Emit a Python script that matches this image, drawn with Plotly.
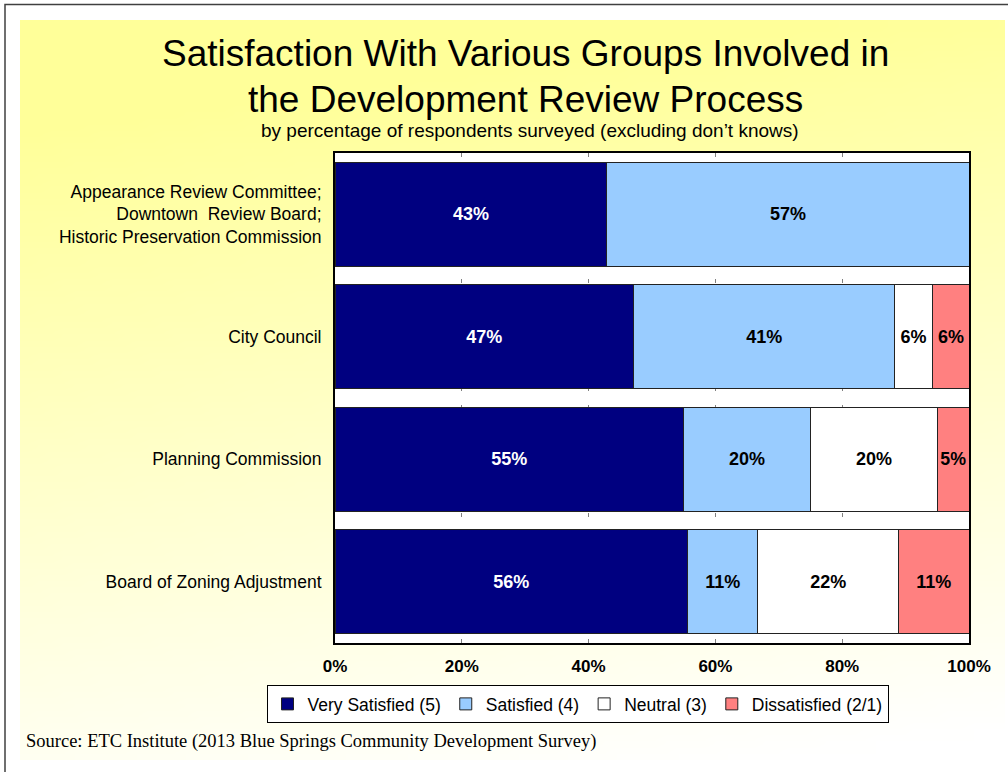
import base64
import struct
import zlib

import plotly.graph_objects as go

# ---------------- data ----------------
categories = [
    "Appearance Review Committee;<br>Downtown  Review Board;<br>Historic Preservation Commission",
    "City Council",
    "Planning Commission",
    "Board of Zoning Adjustment",
]
series_names = ["Very Satisfied (5)", "Satisfied (4)", "Neutral (3)", "Dissatisfied (2/1)"]
very_satisfied = [42.9, 47.1, 55.0, 55.6]
satisfied = [57.1, 41.2, 20.0, 11.1]
neutral = [0.0, 5.9, 20.0, 22.2]
dissatisfied = [0.0, 5.9, 5.0, 11.1]
x_ticks = [0, 20, 40, 60, 80, 100]
x_tick_labels = ["0%", "20%", "40%", "60%", "80%", "100%"]

title_line1 = "Satisfaction With Various Groups Involved in"
title_line2 = "the Development Review Process"
subtitle_text = "by percentage of respondents surveyed (excluding don\u2019t knows)"
source_text = "Source: ETC Institute (2013 Blue Springs Community Development Survey)"

# ---------------- styles ----------------
colors = ["#000080", "#99CCFF", "#FFFFFF", "#FF8080"]
text_colors = ["white", "black", "black", "black"]
SANS = "Arial, Liberation Sans"

W, H = 1008, 772
ML, MR, MT, MB = 335, 39, 153, 129
PW, PH = W - ML - MR, H - MT - MB


def px(xp):
    return (xp - ML) / PW


def py(yp):
    return (H - MB - yp) / PH


# background gradient image (pure python PNG)
def make_png(w, h):
    rows = []
    for j in range(h):
        v = j / (h - 1)
        row = bytearray([0])
        for i in range(w):
            u = i / (w - 1)
            t = 0.85 * v + 0.15 * u
            f = min(1.0, max(0.0, (t - 0.12) / 0.85))
            b = int(round(153 + 102 * f))
            row += bytes([255, 255, b])
        rows.append(bytes(row))
    raw = b"".join(rows)

    def chunk(tag, data):
        c = struct.pack(">I", len(data)) + tag + data
        return c + struct.pack(">I", zlib.crc32(tag + data) & 0xFFFFFFFF)

    png = b"\x89PNG\r\n\x1a\n"
    png += chunk(b"IHDR", struct.pack(">IIBBBBB", w, h, 8, 2, 0, 0, 0))
    png += chunk(b"IDAT", zlib.compress(raw, 9))
    png += chunk(b"IEND", b"")
    return "data:image/png;base64," + base64.b64encode(png).decode()


bg_src = make_png(80, 60)

fig = go.Figure()
all_series = [very_satisfied, satisfied, neutral, dissatisfied]
for name, vals, col, tcol in zip(series_names, all_series, colors, text_colors):
    fig.add_trace(
        go.Bar(
            y=categories,
            x=vals,
            name=name,
            orientation="h",
            marker=dict(color=col, line=dict(color="#222222", width=1)),
            text=[f"{round(v)}%" if v > 0 else "" for v in vals],
            textposition="inside",
            insidetextanchor="middle",
            textangle=0,
            textfont=dict(family=SANS, size=18, color=tcol, weight="bold"),
            hoverinfo="skip",
        )
    )

fig.update_layout(
    width=W,
    height=H,
    barmode="stack",
    bargap=0.15,
    margin=dict(l=ML, r=MR, t=MT, b=MB),
    paper_bgcolor="white",
    plot_bgcolor="white",
    font=dict(family=SANS, color="black"),
    showlegend=True,
    legend=dict(
        orientation="h",
        x=px(577.5),
        xanchor="center",
        y=py(685),
        yanchor="top",
        bgcolor="white",
        bordercolor="black",
        borderwidth=1,
        font=dict(size=17.5, family=SANS),
        traceorder="normal",
        itemwidth=30,
    ),
    xaxis=dict(
        range=[0, 100],
        tickvals=x_ticks,
        ticktext=x_tick_labels,
        tickfont=dict(size=17, weight="bold", family=SANS),
        showgrid=True,
        gridcolor="#808080",
        gridwidth=1,
        griddash="4px,14px",
        showline=True,
        linecolor="black",
        linewidth=2,
        mirror=True,
        ticks="",
        ticklabelstandoff=7,
        zeroline=False,
        fixedrange=True,
    ),
    yaxis=dict(
        categoryorder="array",
        categoryarray=categories,
        autorange="reversed",
        tickfont=dict(size=17.5, family=SANS),
        showline=True,
        linecolor="black",
        linewidth=2,
        mirror=True,
        ticks="",
        ticklabelstandoff=8,
        showgrid=False,
        fixedrange=True,
    ),
    images=[
        dict(
            source=bg_src,
            xref="paper",
            yref="paper",
            x=px(20),
            y=py(20),
            sizex=px(1005) - px(20),
            sizey=py(20) - py(760),
            xanchor="left",
            yanchor="top",
            sizing="stretch",
            layer="below",
        )
    ],
    shapes=[
        dict(
            type="rect",
            xref="paper",
            yref="paper",
            x0=0,
            x1=1,
            y0=0,
            y1=1,
            fillcolor="white",
            line=dict(width=0),
            layer="below",
        ),
        dict(
            type="path",
            xref="paper",
            yref="paper",
            path=f"M {px(5)},{py(780)} L {px(5)},{py(4.5)} L {px(1010)},{py(4.5)}",
            line=dict(color="#404040", width=1.5),
            layer="above",
        ),
    ],
    annotations=[
        dict(
            text=title_line1,
            xref="paper",
            yref="paper",
            x=px(525),
            y=py(53),
            xanchor="center",
            yanchor="middle",
            showarrow=False,
            font=dict(size=37, family=SANS, color="black"),
        ),
        dict(
            text=title_line2,
            xref="paper",
            yref="paper",
            x=px(525),
            y=py(99),
            xanchor="center",
            yanchor="middle",
            showarrow=False,
            font=dict(size=37, family=SANS, color="black"),
        ),
        dict(
            text=subtitle_text,
            xref="paper",
            yref="paper",
            x=px(530),
            y=py(131),
            xanchor="center",
            yanchor="middle",
            showarrow=False,
            font=dict(size=19, family=SANS, color="black"),
        ),
        dict(
            text=source_text,
            xref="paper",
            yref="paper",
            x=px(24),
            y=py(741),
            xanchor="left",
            yanchor="middle",
            showarrow=False,
            font=dict(size=18.5, family="Times New Roman, Liberation Serif", color="black"),
        ),
    ],
)

fig.write_html(
    "out.html",
    config={"displayModeBar": False},
    post_script="document.body.style.margin='0px';",
)
